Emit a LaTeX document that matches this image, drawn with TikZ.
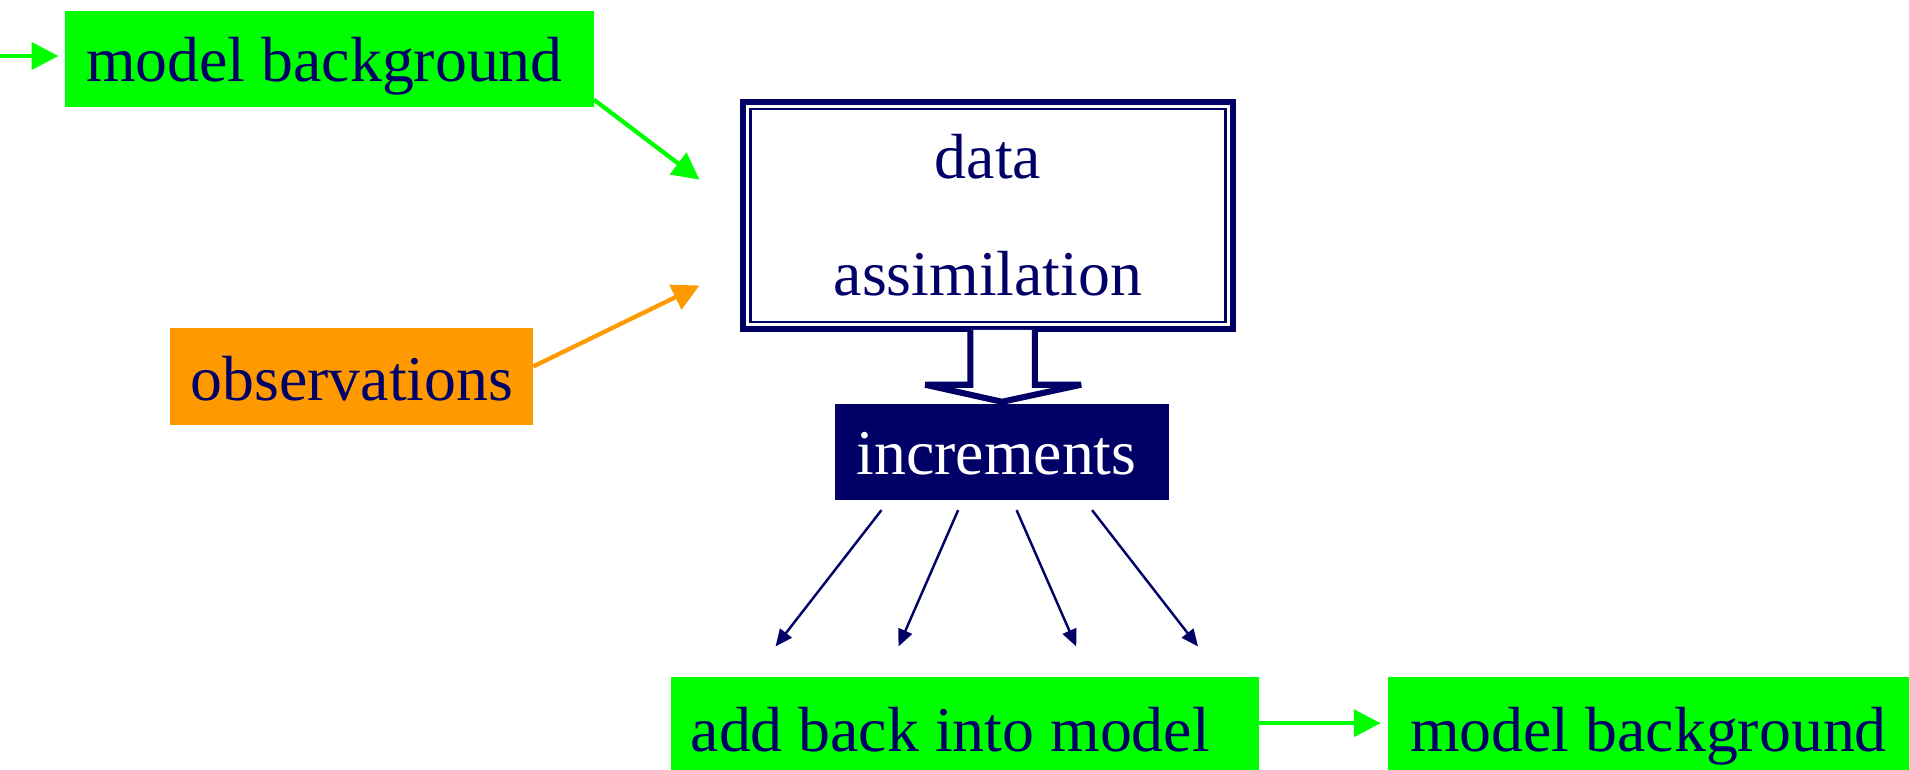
\documentclass[tikz,border=0pt]{standalone}
\usepackage{fontspec}
\setmainfont{Liberation Serif}
\usetikzlibrary{arrows.meta,calc}
\definecolor{navyink}{RGB}{0,0,102}
\definecolor{brightgreen}{RGB}{0,255,0}
\definecolor{obsorange}{RGB}{255,153,0}

\begin{document}
\begin{tikzpicture}[x=0.5pt,y=-0.5pt,
  lbl/.style={font=\fontsize{26.2}{31}\selectfont, text=navyink, inner sep=0pt, outer sep=0pt},
  rowbox/.style={lbl, text height=29pt, text depth=10.5pt},
  gbox/.style={rowbox, fill=brightgreen},
  obox/.style={lbl, fill=obsorange, text height=30pt, text depth=10pt},
  lowbox/.style={lbl, fill=brightgreen, text height=30.5pt, text depth=11.5pt},
  incbox/.style={rowbox, fill=navyink, text=white},
  dabox/.style={lbl, draw=navyink, line width=2.5pt, fill=white, align=center},
  garrow/.style={draw=brightgreen, line width=1.75pt, -{Triangle[length=11pt,width=11pt]}},
  oarrow/.style={draw=obsorange, line width=1.75pt, -{Triangle[length=11pt,width=11pt]}},
  narrow/.style={draw=navyink, line width=1pt, -{Triangle[length=7pt,width=6pt]}},
  hollow/.style={draw=navyink, line width=2.5pt, fill=white, line join=miter, miter limit=2}
]
\useasboundingbox (0,0) rectangle (1568,632);

% boxes
\node[gbox, minimum width=217.5pt] (mb1) at (270.5,48.5) {model background\hspace*{4pt}};
\node[obox, minimum width=149pt] (obs) at (289,309) {observations};
\node[dabox, minimum width=201pt, minimum height=93.5pt] (da) at (811.5,177) {data\\[17pt]assimilation};
\draw[navyink, line width=1pt] ($(da.north west)+(6,6)$) rectangle ($(da.south east)+(-6,-6)$);
\node[incbox, minimum width=137pt] (inc) at (823,371.5) {increments\hspace*{4.5pt}};
\node[lowbox, minimum width=241.5pt] (ab) at (792.5,598) {add back into model\hspace*{12pt}};
\node[lowbox, minimum width=214pt] (mb2) at (1354,598) {model background};

% incoming model state
\coordinate (in1) at (0,46);
\draw[garrow, shorten >=2.5pt] (in1) -- (in1 -| mb1.west);

% inputs to the analysis
\draw[garrow] ($(mb1.south east)+(0,-6)$) -- ($(da.north west)+(-36,64)$);
\draw[oarrow] ($(obs.east)+(0,-8)$) -- ($(da.south west)+(-36,-36)$);

% block arrow from analysis to increments
\draw[hollow, shift={(inc.north)}] (-26,-61) -- (-26,-16) -- (-63,-16) -- (0,-2)
  -- (65,-16) -- (27,-16) -- (27,-61);

% increments fanned out into the model
\draw[narrow] ($(inc.south)+(-99,8)$) -- ($(ab.north)+(-155.5,-25)$);
\draw[narrow] ($(inc.south)+(-36,8)$) -- ($(ab.north)+(-54.5,-25)$);
\draw[narrow] ($(inc.south)+(12,8)$) -- ($(ab.north)+(91.5,-25)$);
\draw[narrow] ($(inc.south)+(74,8)$) -- ($(ab.north)+(191.5,-25)$);

% updated model state
\draw[garrow, shorten >=3pt] ($(ab.east)+(0,-4)$) -- ($(mb2.west)+(0,-4)$);
\end{tikzpicture}
\end{document}
